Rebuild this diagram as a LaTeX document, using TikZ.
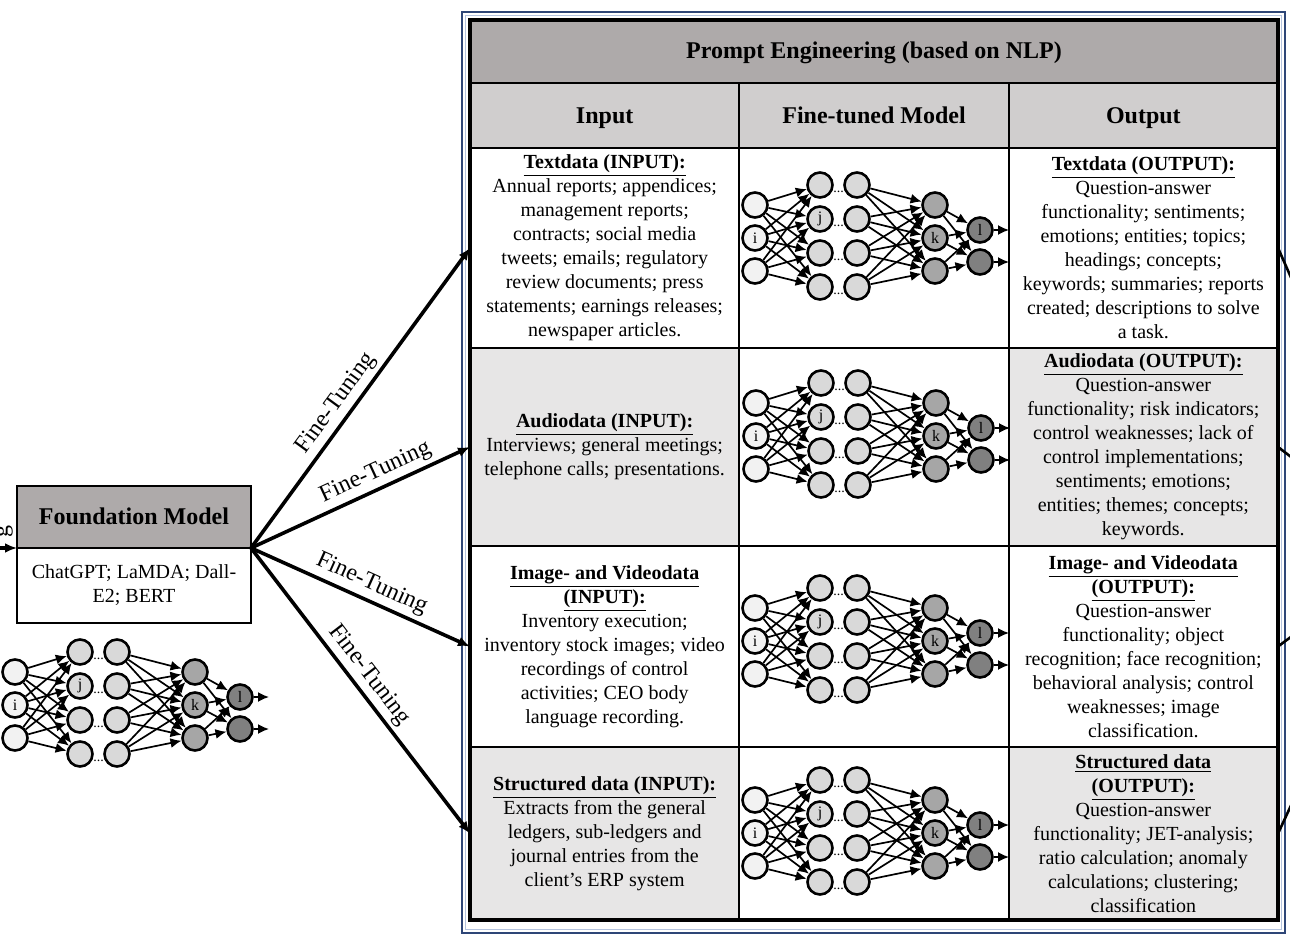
\documentclass[tikz,border=0pt]{standalone}
\usepackage{fontspec}
\setmainfont{Liberation Serif}
\usepackage{xcolor}
\usepackage{tikz}
\usetikzlibrary{positioning}
\usetikzlibrary{arrows}
\usetikzlibrary{arrows.meta}
\usetikzlibrary{calc}
\definecolor{headdark}{HTML}{AEAAAA}
\definecolor{headlight}{HTML}{D0CECE}
\definecolor{rowgray}{HTML}{E7E6E6}
\definecolor{framenavy}{HTML}{2E4677}
\definecolor{framepale}{HTML}{B4C3DE}
\tikzset{tcell/.style={rectangle,draw,line width=1pt,inner sep=0pt,outer sep=0pt,minimum width=134.67pt,align=center,font=\fontsize{10}{12}\selectfont},
head cell/.style={tcell,fill=headlight,minimum height=32.5pt,text height=11pt,text depth=2.5pt,font=\fontsize{12}{14}\selectfont\bfseries},
gray cell/.style={tcell,fill=rowgray},
neuron/.style={circle,draw,line width=1.3pt,minimum size=12.5pt,inner sep=0pt,font=\fontsize{8}{8}\selectfont},
gapdots/.style={inner sep=0pt,yshift=-3.5pt,font=\fontsize{7}{7}\selectfont},
syn/.style={-{Latex[length=5.5pt,width=5pt]},line width=0.85pt},
fan/.style={-{Latex[length=6pt,width=5pt]},line width=1.8pt},
ft/.style={sloped,above,inner sep=2pt,font=\fontsize{12}{14}\selectfont},
}
\newcommand{\hd}[1]{\textbf{\underline{#1}}}
\newcommand{\neuralnet}[3]{%
\begin{scope}[shift={(#1,#2)}]
  \foreach \y/\t [count=\n] in {-33/,0/i,33/}
    \node[neuron,fill=black!5] (#3a\n) at (0,\y) {\t};
  \foreach \y/\t [count=\n] in {-53/,-19/j,15/,49/} {
    \node[neuron,fill=black!15] (#3b\n) at (65,\y) {\t};
    \node[neuron,fill=black!15] (#3c\n) at (102,\y) {};
    \path (#3b\n) -- node[gapdots] (#3p\n) {...} (#3c\n);
  }
  \foreach \y/\t [count=\n] in {-33/,0/k,33/}
    \node[neuron,fill=black!35] (#3d\n) at (180,\y) {\t};
  \foreach \y/\t [count=\n] in {-8/l,24/} {
    \node[neuron,fill=black!50] (#3e\n) at (225,\y) {\t};
    \coordinate (#3o\n) at (254,\y);
    \draw[syn] (#3e\n) -- (#3o\n);
  }
  \foreach \s in {1,2,3} \foreach \r in {1,2,3,4} \draw[syn] (#3a\s) -- (#3b\r);
  \foreach \s in {1,2,3,4} \foreach \r in {1,2,3} \draw[syn] (#3c\s) -- (#3d\r);
  \foreach \s in {1,2,3} \foreach \r in {1,2} \draw[syn] (#3d\s) -- (#3e\r);
\end{scope}}

\begin{document}
\begin{tikzpicture}[x=0.5pt,y=-0.5pt]
\useasboundingbox (0,0) rectangle (1290,946);
\clip (0,0) rectangle (1290,946);
\fill[white] (0,0) rectangle (1290,946);
\draw[framenavy,line width=1.2pt] (462,12) rectangle (1285,933);
\draw[framepale,line width=0.6pt] (465.5,15.5) rectangle (1281.5,929.5);

\node[tcell,fill=headdark,minimum width=404pt,minimum height=31.5pt,text height=10pt,text depth=2.5pt,font=\fontsize{12}{14}\selectfont\bfseries] (title) at (874,51.5) {Prompt Engineering (based on NLP)};
\node[head cell] (hin) [below right=0pt of title.south west] {Input};
\node[head cell] (hmod) [right=0pt of hin] {Fine-tuned Model};
\node[head cell] (hout) [right=0pt of hmod] {Output};

\node[tcell,minimum height=100pt] (in1) [below=0pt of hin] {\hd{Textdata (INPUT):}\\Annual reports; appendices;\\management reports;\\contracts; social media\\tweets; emails; regulatory\\review documents; press\\statements; earnings releases;\\newspaper articles.};
\node[tcell,minimum height=100pt] (mod1) [right=0pt of in1] {};
\node[tcell,minimum height=100pt] (out1) [right=0pt of mod1] {\hd{Textdata (OUTPUT):}\\Question-answer\\functionality; sentiments;\\emotions; entities; topics;\\headings; concepts;\\keywords; summaries; reports\\created; descriptions to solve\\a task.};

\node[gray cell,minimum height=99pt] (in2) [below=0pt of in1] {\hd{Audiodata (INPUT):}\\Interviews; general meetings;\\telephone calls; presentations.};
\node[tcell,minimum height=99pt] (mod2) [right=0pt of in2] {};
\node[gray cell,minimum height=99pt] (out2) [right=0pt of mod2] {\hd{Audiodata (OUTPUT):}\\Question-answer\\functionality; risk indicators;\\control weaknesses; lack of\\control implementations;\\sentiments; emotions;\\entities; themes; concepts;\\keywords.};

\node[tcell,minimum height=100.5pt] (in3) [below=0pt of in2] {\hd{Image- and Videodata}\\\hd{(INPUT):}\\Inventory execution;\\inventory stock images; video\\recordings of control\\activities; CEO body\\language recording.};
\node[tcell,minimum height=100.5pt] (mod3) [right=0pt of in3] {};
\node[tcell,minimum height=100.5pt] (out3) [right=0pt of mod3] {\hd{Image- and Videodata}\\\hd{(OUTPUT):}\\Question-answer\\functionality; object\\recognition; face recognition;\\behavioral analysis; control\\weaknesses; image\\classification.};

\node[gray cell,minimum height=86.5pt] (in4) [below=0pt of in3] {\hd{Structured data (INPUT):}\\Extracts from the general\\ledgers, sub-ledgers and\\journal entries from the\\client's ERP system};
\node[tcell,minimum height=86.5pt] (mod4) [right=0pt of in4] {};
\node[gray cell,minimum height=86.5pt] (out4) [right=0pt of mod4] {\hd{Structured data}\\\hd{(OUTPUT):}\\Question-answer\\functionality; JET-analysis;\\ratio calculation; anomaly\\calculations; clustering;\\classification};
\draw[line width=1.6pt] (title.north west) rectangle (out4.south east);

\neuralnet{755}{238}{tx}
\neuralnet{756}{436}{au}
\neuralnet{755}{641}{iv}
\neuralnet{755}{833}{sd}

\node[tcell,fill=headdark,minimum width=117pt,minimum height=31pt,text height=10pt,text depth=2.5pt,font=\fontsize{12}{14}\selectfont\bfseries] (fm) at (134,517) {Foundation Model};
\node[tcell,minimum width=117pt,minimum height=37.5pt] (fmb) [below=0pt of fm] {ChatGPT; LaMDA; Dall-\\E2; BERT};
\neuralnet{15}{705}{fn}

\path[fan]
  (fm.south east) edge node[ft,pos=0.45] {Fine-Tuning} (in1.west)
  (fm.south east) edge node[ft,pos=0.6] {Fine-Tuning} (in2.west)
  (fm.south east) edge node[ft,pos=0.52] {Fine-Tuning} (in3.west)
  (fm.south east) edge node[ft,pos=0.48] {Fine-Tuning} (in4.west);

\coordinate (lin) at (-40,548);
\draw[fan] (lin) -- (fm.south west);
\node[rotate=90,inner sep=0pt,font=\fontsize{12}{14}\selectfont] (gfrag) at (4,531) {g};
\coordinate (rhub) at (1410,548);
\foreach \r in {1,...,4} \draw[line width=1.3pt] (out\r.east) -- (rhub);
\end{tikzpicture}
\end{document}
